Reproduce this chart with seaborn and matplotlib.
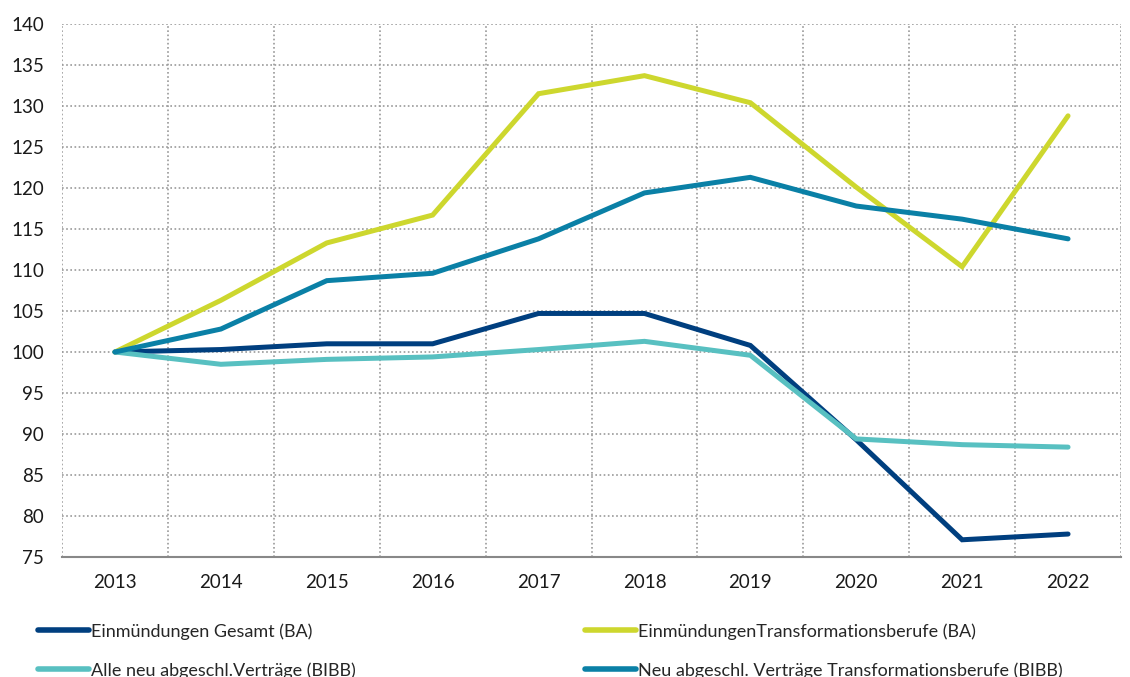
import matplotlib
matplotlib.use("Agg")
import matplotlib.pyplot as plt
import seaborn as sns
import pandas as pd
import numpy as np
from matplotlib.lines import Line2D

years = [2013, 2014, 2015, 2016, 2017, 2018, 2019, 2020, 2021, 2022]
einm_gesamt = [100, 100.3, 101.0, 101.0, 104.7, 104.7, 100.8, 89.3, 77.1, 77.8]
einm_transf = [100, 106.3, 113.3, 116.7, 131.5, 133.7, 130.4, 120.1, 110.4, 128.8]
alle_vertr = [100, 98.5, 99.1, 99.4, 100.3, 101.3, 99.6, 89.4, 88.7, 88.4]
neu_transf = [100, 102.8, 108.7, 109.6, 113.8, 119.4, 121.3, 117.8, 116.2, 113.8]

labels = ["Einmündungen Gesamt (BA)",
          "EinmündungenTransformationsberufe (BA)",
          "Alle neu abgeschl.Verträge (BIBB)",
          "Neu abgeschl. Verträge Transformationsberufe (BIBB)"]
colors = ["#003f7f", "#cdd72e", "#58c0c1", "#0a80a6"]
series = [einm_gesamt, einm_transf, alle_vertr, neu_transf]

rows = []
for lab, vals in zip(labels, series):
    for y, v in zip(years, vals):
        rows.append({"Jahr": y, "Wert": v, "Reihe": lab})
df = pd.DataFrame(rows)

sns.set_theme(style="white")
plt.rcParams['font.family'] = ['Lato', 'DejaVu Sans']

fig = plt.figure(figsize=(11.30, 6.77), dpi=100)
ax = fig.add_axes([62/1130, 1-557/677, (1121-62)/1130, (557-24)/677])

sns.lineplot(data=df, x="Jahr", y="Wert", hue="Reihe", hue_order=labels,
             palette=colors, linewidth=3.6, ax=ax, legend=False,
             solid_capstyle="round", solid_joinstyle="miter")

ax.set_xlim(2012.5, 2022.5)
ax.set_ylim(75, 140)
ax.set_yticks(np.arange(75, 141, 5))
ax.set_xticks(years)
ax.set_xticks(np.arange(2012.5, 2023, 1), minor=True)
ax.grid(False)
ax.grid(True, axis="x", which="minor", linestyle=(0, (1, 1.5)), color="#999999", linewidth=1.2)
ax.grid(True, axis="y", which="major", linestyle=(0, (1, 1.5)), color="#999999", linewidth=1.2)
ax.set_axisbelow(True)
for s in ["top", "right", "left"]:
    ax.spines[s].set_visible(False)
ax.spines["bottom"].set_color("#888888")
ax.spines["bottom"].set_linewidth(1.5)
ax.tick_params(axis="both", which="both", length=0, labelsize=13.5, colors="#1a1a1a")
ax.tick_params(axis="x", pad=12)
ax.tick_params(axis="y", pad=13)
ax.set_xlabel("")
ax.set_ylabel("")

def handle(c):
    return Line2D([0], [0], color=c, linewidth=4, solid_capstyle="round")

common = dict(loc="upper left", frameon=False, fontsize=13, handlelength=2.8,
              handletextpad=0.15, labelspacing=1.25, borderaxespad=0, borderpad=0)
fig.legend([handle(colors[0]), handle(colors[2])], [labels[0], labels[2]],
           bbox_to_anchor=(38/1130, 1-623/677), **common)
fig.legend([handle(colors[1]), handle(colors[3])], [labels[1], labels[3]],
           bbox_to_anchor=(585/1130, 1-623/677), **common)

fig.savefig("out.png", dpi=100)
